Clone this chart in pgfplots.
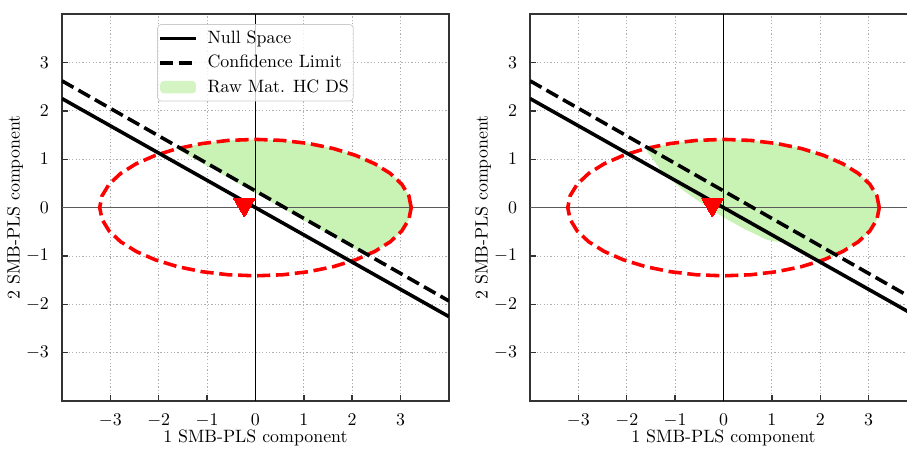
\documentclass[border=0pt]{standalone}
\usepackage{pgfplots}
\usepackage{pgfplotstable}
\pgfplotsset{compat=1.18}

\definecolor{hcgreen}{RGB}{201,242,181}
\definecolor{gridgray}{RGB}{176,176,176}
\definecolor{zerogray}{RGB}{90,90,90}

% ellipse of the confidence region (10 degree steps)
\pgfplotstableread{
x y
3.220 0
3.171 0.245
3.026 0.482
2.789 0.705
2.467 0.906
2.070 1.080
1.610 1.221
1.101 1.325
0.559 1.389
0 1.410
-0.559 1.389
-1.101 1.325
-1.610 1.221
-2.070 1.080
-2.467 0.906
-2.789 0.705
-3.026 0.482
-3.171 0.245
-3.220 0
-3.171 -0.245
-3.026 -0.482
-2.789 -0.705
-2.467 -0.906
-2.070 -1.080
-1.610 -1.221
-1.101 -1.325
-0.559 -1.389
0 -1.410
0.559 -1.389
1.101 -1.325
1.610 -1.221
2.070 -1.080
2.467 -0.906
2.789 -0.705
3.026 -0.482
3.171 -0.245
3.220 0
}\ellipsetab

% HC design space, left panel
\pgfplotstableread{
x y
-1.600 1.200
-1.101 1.325
-0.559 1.389
0 1.410
0.559 1.389
1.101 1.325
1.610 1.221
2.070 1.080
2.467 0.906
2.789 0.705
3.026 0.482
3.171 0.245
3.220 0
3.171 -0.245
3.026 -0.482
2.789 -0.705
2.467 -0.906
2.300 -0.990
}\fillleft

% HC design space, right panel
\pgfplotstableread{
x y
-1.600 1.200
-1.101 1.325
-0.559 1.389
0 1.410
0.559 1.389
1.101 1.325
1.610 1.221
2.070 1.080
2.467 0.906
2.789 0.705
3.026 0.482
3.171 0.245
3.220 0
3.171 -0.245
3.026 -0.482
2.789 -0.705
2.467 -0.906
2.070 -1.080
1.976 -1.113
1.32 -0.744
0.9 -0.667
0.4 -0.425
0.0 -0.200
-0.4 0.055
-0.8 0.331
-1.25 0.704
}\fillright

\pgfplotsset{
  panel/.style={
    scale only axis, width=216.7pt, height=216.7pt,
    xmin=-4, xmax=4, ymin=-4, ymax=4,
    xtick={-3,...,3}, ytick={-3,...,3},
    tick align=inside, xtick pos=left, ytick pos=left,
    major tick length=3.5pt,
    grid=major,
    grid style={gridgray, line width=0.5pt, dash pattern=on 0.7pt off 1.2pt},
    axis line style={black!80, line width=0.8pt},
    every tick/.style={black!80, line width=0.8pt},
    xlabel={1 SMB-PLS component},
    ylabel={2 SMB-PLS component},
    xlabel style={at={(axis description cs:0.5,-0.108)}, anchor=base},
    ylabel style={at={(axis description cs:-0.1214,0.5)}, anchor=center},
    xticklabel style={yshift=-3.9pt},
    yticklabel style={xshift=-3.8pt},
  },
  nullline/.style={black, line width=2pt},
  conflim/.style={black, line width=2pt, dash pattern=on 7.4pt off 3.2pt},
  ellip/.style={red, line width=2pt, dash pattern=on 7.4pt off 3.2pt},
  pred/.style={only marks, mark=triangle*, mark size=7pt,
    mark options={fill=red, draw=red, line width=0pt, rotate=180, yshift=-1.75pt}},
  lineleg/.style={legend image code/.code={\draw[##1] (0pt,0pt) -- (20pt,0pt); \path (23.5pt,0pt);}},
  patchleg/.style={legend image code/.code={\fill[##1] (0pt,-3.5pt) rectangle (20pt,3.5pt); \path (23.5pt,0pt);}},
}

\begin{document}
\begin{tikzpicture}
% page frame: the right panel runs past the right edge, as in the reference
\path (0pt,0pt) rectangle (507.9pt,-250.9pt);

\begin{scope}[overlay]
% left panel
\begin{axis}[panel, at={(34.7pt,-224.6pt)}, anchor=south west,
  legend style={at={(0.5,0.974)}, anchor=north, draw=black!20,
    rounded corners=2pt, fill=white, fill opacity=0.8, text opacity=1,
    inner xsep=0.5pt, inner ysep=1.5pt, row sep=1.1pt},
  legend cell align=left]
\addlegendimage{nullline, lineleg}
\addlegendentry{Null Space}
\addlegendimage{conflim, lineleg}
\addlegendentry{Confidence Limit}
\addlegendimage{fill=hcgreen, draw=none, patchleg}
\addlegendentry{Raw Mat. HC DS}
\addplot[forget plot, fill=hcgreen, draw=none] table {\fillleft};
\addplot[forget plot, zerogray, line width=0.8pt] coordinates {(-4,0) (4,0)};
\addplot[forget plot, black, line width=0.6pt] coordinates {(0,-4) (0,4)};
\addplot[forget plot, ellip] table {\ellipsetab};
\addplot[forget plot, nullline] coordinates {(-4,2.254) (4,-2.254)};
\addplot[forget plot, conflim] coordinates {(-4,2.620) (4,-1.930)};
\addplot[forget plot, pred] coordinates {(-0.23,0)};
\end{axis}

% right panel
\begin{axis}[panel, at={(296.8pt,-224.6pt)}, anchor=south west]
\addplot[fill=hcgreen, draw=none] table {\fillright};
\addplot[zerogray, line width=0.8pt] coordinates {(-4,0) (4,0)};
\addplot[black, line width=0.6pt] coordinates {(0,-4) (0,4)};
\addplot[ellip] table {\ellipsetab};
\addplot[nullline] coordinates {(-4,2.254) (4,-2.254)};
\addplot[conflim] coordinates {(-4,2.620) (4,-1.930)};
\addplot[pred] coordinates {(-0.23,0)};
\end{axis}
\end{scope}
\end{tikzpicture}
\end{document}
